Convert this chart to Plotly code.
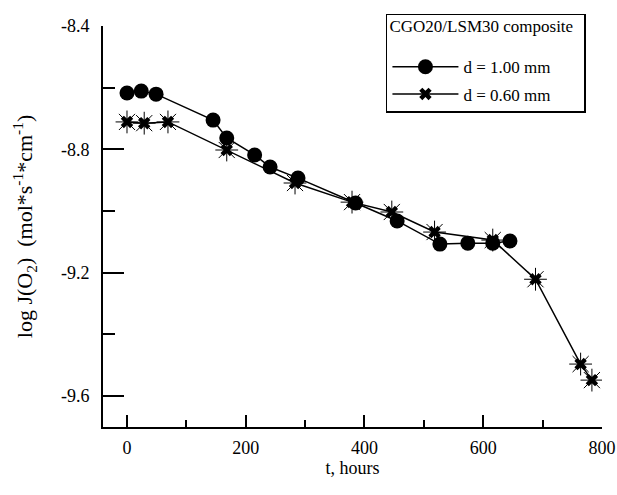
import plotly.graph_objects as go

# Oxygen flux through CGO20/LSM30 composite membranes vs. time
t_thick = [0, 24, 49, 145, 168, 215, 241, 288, 385, 455, 527, 574, 616, 645]
logj_thick = [-8.617, -8.611, -8.621, -8.705, -8.763, -8.818, -8.857, -8.893,
              -8.974, -9.032, -9.107, -9.104, -9.104, -9.097]

t_thin = [0, 29, 69, 168, 283, 379, 446, 518, 616, 688, 764, 783]
logj_thin = [-8.711, -8.715, -8.711, -8.802, -8.909, -8.971, -9.003, -9.068,
             -9.094, -9.221, -9.496, -9.548]

x_ticks = [0, 200, 400, 600, 800]
y_ticks = [-8.4, -8.8, -9.2, -9.6]

FONT = "Liberation Serif, Times New Roman, serif"

fig = go.Figure()

fig.add_trace(go.Scatter(
    x=t_thick, y=logj_thick, mode="lines+markers", name="d = 1.00 mm",
    line=dict(color="black", width=1.5),
    marker=dict(symbol="circle", size=15, color="black"),
    legendgroup="a",
))

fig.add_trace(go.Scatter(
    x=t_thin, y=logj_thin, mode="lines+markers", name="d = 0.60 mm",
    line=dict(color="black", width=1.5),
    marker=dict(symbol="x", size=11, color="black", line=dict(width=0)),
    legendgroup="b",
))
# thin rays around the star markers
fig.add_trace(go.Scatter(
    x=t_thin, y=logj_thin, mode="markers", showlegend=False,
    marker=dict(symbol="asterisk-open", size=19, color="black",
                line=dict(width=1, color="black")),
    hoverinfo="skip",
))

fig.update_layout(
    width=617, height=495,
    margin=dict(l=103, r=15, t=26, b=68, autoexpand=False),
    paper_bgcolor="white", plot_bgcolor="white",
    font=dict(family=FONT, size=17, color="black"),
    showlegend=True,
    legend=dict(
        x=0.567, y=1.03, xanchor="left", yanchor="top",
        bgcolor="white", bordercolor="black", borderwidth=1.5,
        title=dict(text='<span style="font-size:17px">CGO20/LSM30 composite&nbsp;&nbsp;</span><br>',
                   font=dict(family=FONT, size=13)),
        font=dict(family=FONT, size=17),
        tracegroupgap=2,
        traceorder="grouped",
        itemwidth=66,
    ),
    xaxis=dict(
        range=[-40.4, 800], automargin=False,
        tickmode="array", tickvals=x_ticks, ticktext=[str(v) for v in x_ticks],
        ticks="inside", ticklen=12, tickwidth=2, tickcolor="black",
        minor=dict(tickmode="array", tickvals=[100, 300, 500, 700],
                   ticks="inside", ticklen=7, tickwidth=2, tickcolor="black"),
        showline=True, linecolor="black", linewidth=2,
        showgrid=False, zeroline=False,
        ticklabelstandoff=3,
        tickfont=dict(family=FONT, size=18),
        title=dict(text="t, hours", font=dict(family=FONT, size=18), standoff=2),
    ),
    yaxis=dict(
        range=[-9.70, -8.4], automargin=False,
        tickmode="array", tickvals=y_ticks, ticktext=[f"{v:.1f}" for v in y_ticks],
        ticks="inside", ticklen=21, tickwidth=2, tickcolor="black",
        minor=dict(tickmode="array", tickvals=[-8.6, -9.0, -9.4],
                   ticks="inside", ticklen=12, tickwidth=2, tickcolor="black"),
        showline=True, linecolor="black", linewidth=2,
        showgrid=False, zeroline=False,
        ticklabelstandoff=8,
        tickfont=dict(family=FONT, size=18),
        title=dict(text="log J(O<sub>2</sub>)&nbsp;&nbsp;(mol*s<sup>-1</sup>*cm<sup>-1</sup>)",
                   font=dict(family=FONT, size=22), standoff=22),
    ),
)

fig.write_html("out.html")
